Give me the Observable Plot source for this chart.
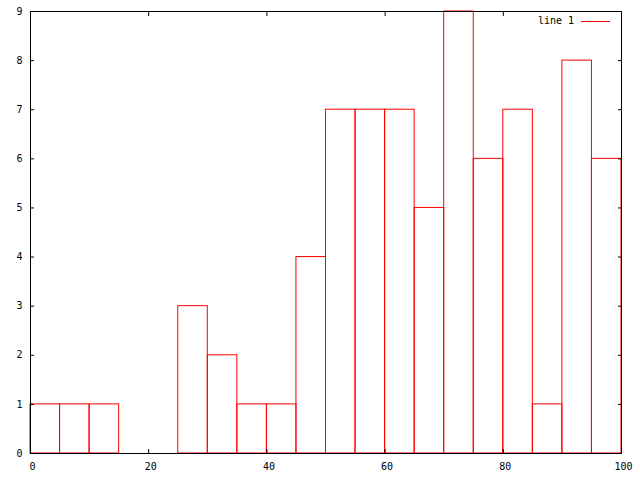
<!DOCTYPE html>
<html><head><meta charset="utf-8">
<script src="https://cdn.jsdelivr.net/npm/d3@7"></script>
<script src="https://cdn.jsdelivr.net/npm/@observablehq/plot@0.6"></script>
<style>
body{margin:0;background:#fff}
#wrap{position:relative;width:640px;height:480px}
#legend{position:absolute;right:30px;top:15px;display:flex;align-items:center;font:10px "DejaVu Sans Mono",monospace;color:#000;line-height:12px}
#legend .sw{display:inline-block;width:29px;height:1px;background:#ff0000;margin-left:7px}
</style></head><body><div id="wrap"></div><script>
const binStarts = [0,5,10,15,20,25,30,35,40,45,50,55,60,65,70,75,80,85,90,95];
const binWidth = 5;
const counts = [1,1,1,0,0,3,2,1,1,4,7,7,7,5,9,6,7,1,8,6];
const xTicks = [0,20,40,60,80,100];
const yTicks = [0,1,2,3,4,5,6,7,8,9];
const seriesLabel = "line 1";

const data = binStarts.map((x, i) => ({x1: x, x2: x + binWidth, y: counts[i]}));
const blank = () => "";
const chart = Plot.plot({
  width: 640, height: 480,
  marginLeft: 30, marginRight: 19, marginTop: 11, marginBottom: 27,
  style: {fontFamily: "'DejaVu Sans Mono', monospace", fontSize: "10px", background: "#fff", color: "#000"},
  x: {domain: [0, 100]},
  y: {domain: [0, 9]},
  marks: [
    Plot.rect(data, {x1: "x1", x2: "x2", y1: 0, y2: "y", fill: "none", stroke: "#ff0000"}),
    Plot.frame({stroke: "#000"}),
    Plot.axisX(xTicks, {anchor: "bottom", tickSize: 4, dy: -4, tickFormat: blank, label: null}),
    Plot.axisX(xTicks, {anchor: "top", tickSize: 4, dy: 4, tickFormat: blank, label: null}),
    Plot.axisY(yTicks, {anchor: "left", tickSize: 4, dx: 4, tickFormat: blank, label: null}),
    Plot.axisY(yTicks, {anchor: "right", tickSize: 4, dx: -4, tickFormat: blank, label: null}),
    Plot.axisX(xTicks, {anchor: "bottom", tickSize: 0, tickPadding: 9, dx: 2, label: null}),
    Plot.axisY(yTicks, {anchor: "left", tickSize: 0, tickPadding: 8, label: null})
  ]
});
const wrap = document.getElementById("wrap");
wrap.appendChild(chart);
const legend = document.createElement("div");
legend.id = "legend";
const t = document.createElement("span");
t.textContent = seriesLabel;
const sw = document.createElement("span");
sw.className = "sw";
legend.appendChild(t);
legend.appendChild(sw);
wrap.appendChild(legend);
</script></body></html>
